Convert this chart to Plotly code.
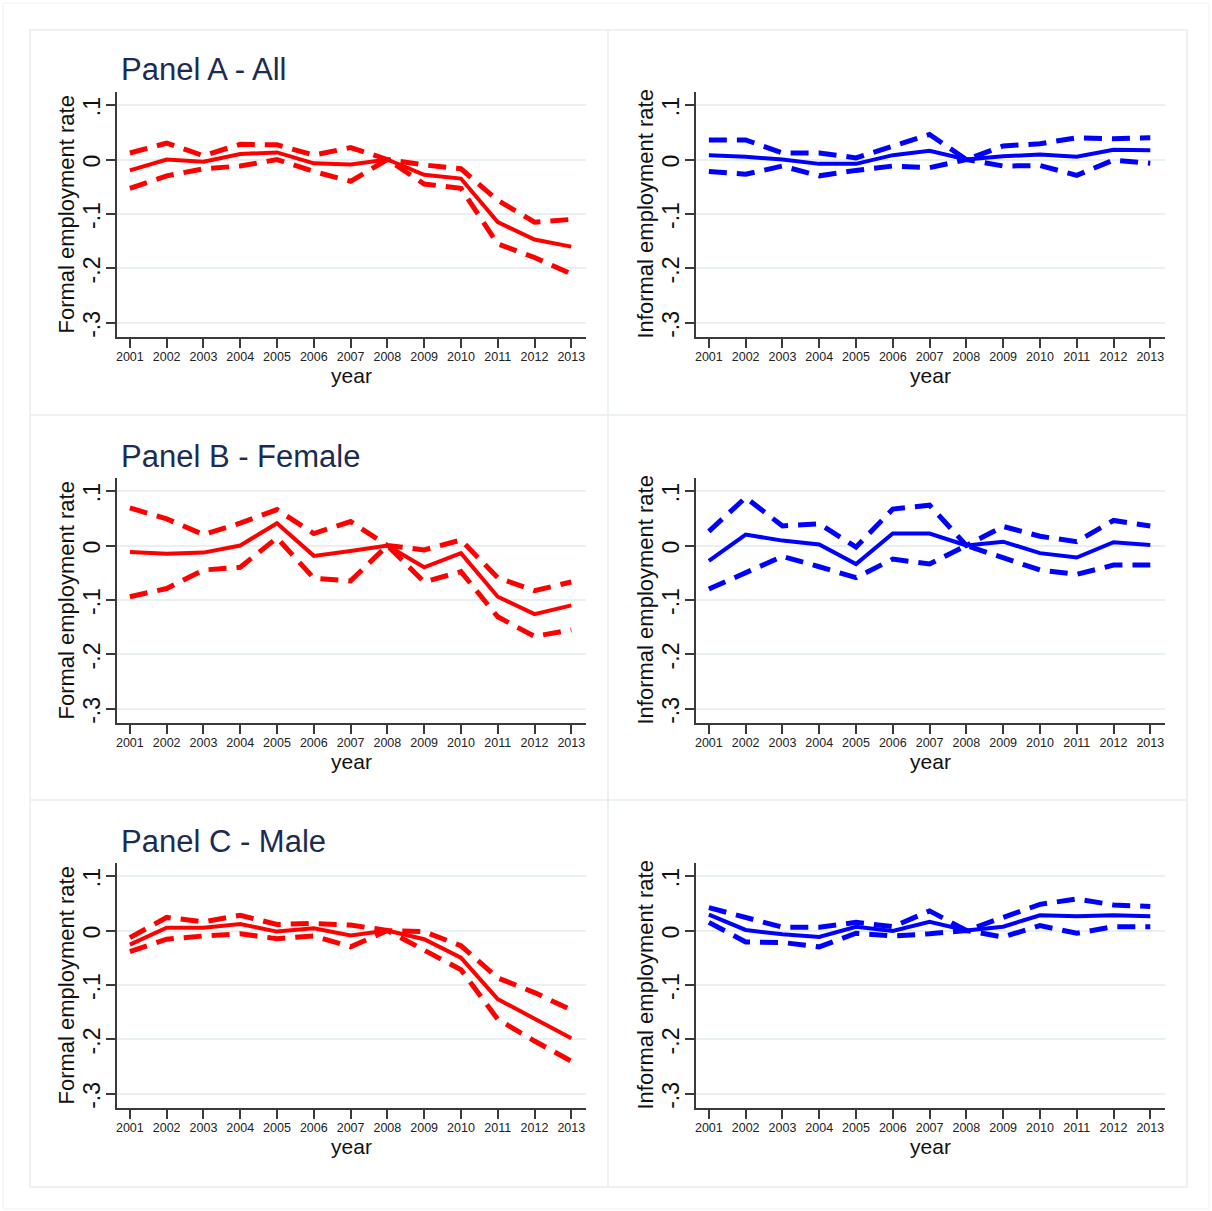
import plotly.graph_objects as go

years = list(range(2001, 2014))

# Panel A - All
a_formal = [-0.020, 0.000, -0.004, 0.010, 0.013, -0.007, -0.009, 0.000, -0.028, -0.035, -0.115, -0.147, -0.160]
a_formal_hi = [0.012, 0.030, 0.007, 0.028, 0.027, 0.008, 0.022, 0.000, -0.010, -0.017, -0.075, -0.115, -0.110]
a_formal_lo = [-0.053, -0.030, -0.017, -0.012, 0.000, -0.022, -0.040, 0.000, -0.045, -0.053, -0.155, -0.180, -0.210]
a_inf = [0.008, 0.005, 0.000, -0.008, -0.008, 0.008, 0.016, 0.000, 0.006, 0.009, 0.005, 0.018, 0.017]
a_inf_hi = [0.036, 0.036, 0.012, 0.012, 0.003, 0.025, 0.046, 0.000, 0.025, 0.029, 0.040, 0.038, 0.040]
a_inf_lo = [-0.022, -0.027, -0.012, -0.030, -0.020, -0.012, -0.015, 0.000, -0.012, -0.011, -0.029, -0.001, -0.007]

# Panel B - Female
b_formal = [-0.012, -0.015, -0.013, 0.000, 0.041, -0.019, -0.010, 0.000, -0.040, -0.014, -0.094, -0.126, -0.110]
b_formal_hi = [0.069, 0.049, 0.020, 0.041, 0.066, 0.022, 0.044, 0.000, -0.008, 0.010, -0.059, -0.083, -0.067]
b_formal_lo = [-0.094, -0.079, -0.045, -0.040, 0.014, -0.060, -0.065, 0.000, -0.067, -0.048, -0.131, -0.167, -0.155]
b_inf = [-0.028, 0.020, 0.009, 0.002, -0.034, 0.022, 0.022, 0.000, 0.007, -0.014, -0.022, 0.006, 0.001]
b_inf_hi = [0.026, 0.088, 0.036, 0.040, -0.003, 0.067, 0.074, 0.000, 0.035, 0.017, 0.007, 0.046, 0.036]
b_inf_lo = [-0.080, -0.050, -0.020, -0.039, -0.059, -0.025, -0.034, 0.000, -0.022, -0.045, -0.053, -0.036, -0.036]

# Panel C - Male
c_formal = [-0.026, 0.005, 0.005, 0.012, -0.002, 0.004, -0.009, 0.000, -0.016, -0.050, -0.126, -0.163, -0.198]
c_formal_hi = [-0.013, 0.024, 0.016, 0.028, 0.011, 0.013, 0.010, 0.000, -0.002, -0.028, -0.087, -0.114, -0.146]
c_formal_lo = [-0.039, -0.016, -0.010, -0.006, -0.015, -0.010, -0.030, 0.000, -0.036, -0.072, -0.163, -0.203, -0.240]
c_inf = [0.029, 0.001, -0.007, -0.012, 0.007, -0.001, 0.016, 0.000, 0.007, 0.028, 0.026, 0.028, 0.026]
c_inf_hi = [0.042, 0.023, 0.006, 0.006, 0.015, 0.007, 0.036, 0.000, 0.023, 0.048, 0.058, 0.047, 0.044]
c_inf_lo = [0.015, -0.021, -0.022, -0.030, -0.005, -0.010, -0.006, 0.000, -0.012, 0.009, -0.005, 0.007, 0.007]

panel_titles = ["Panel A - All", "Panel B - Female", "Panel C - Male"]
y_titles = ["Formal employment rate", "Informal employment rate"]
y_tickvals = [-0.3, -0.2, -0.1, 0, 0.1]
y_ticktext = ["-.3", "-.2", "-.1", "0", ".1"]

W, H = 1212, 1211
FONT = "Liberation Sans, Arial, Helvetica, sans-serif"
RED, BLUE = "#ff0000", "#0000ff"
GRID = "#e8f0f2"
BORDER = "#e6eef0"
AXIS = "#3a3a3a"
TITLE_COLOR = "#1c2b51"

panels = [
    [(a_formal, a_formal_hi, a_formal_lo, RED), (a_inf, a_inf_hi, a_inf_lo, BLUE)],
    [(b_formal, b_formal_hi, b_formal_lo, RED), (b_inf, b_inf_hi, b_inf_lo, BLUE)],
    [(c_formal, c_formal_hi, c_formal_lo, RED), (c_inf, c_inf_hi, c_inf_lo, BLUE)],
]

# plot-area pixel geometry
col_x = [(117, 586), (696, 1165)]
row_y = [(92, 337), (478, 723), (863, 1108)]

fig = go.Figure()
layout = dict(
    width=W, height=H, autosize=False,
    margin=dict(l=0, r=0, t=0, b=0),
    paper_bgcolor="white", plot_bgcolor="white",
    showlegend=False,
    font=dict(family=FONT, color="#000000"),
)
annotations = []
shapes = []

k = 0
for r in range(3):
    for c in range(2):
        k += 1
        xname = "x" if k == 1 else f"x{k}"
        yname = "y" if k == 1 else f"y{k}"
        mid, hi, lo, color = panels[r][c]
        for vals, dash, w in [(hi, "18px,10px", 5), (lo, "18px,10px", 5), (mid, "solid", 4)]:
            fig.add_trace(go.Scatter(
                x=years, y=vals, mode="lines", xaxis=xname, yaxis=yname,
                line=dict(color=color, width=w, dash=dash),
                hoverinfo="skip"))
        x0, x1 = col_x[c]
        y0, y1 = row_y[r]
        xd = [x0 / W, x1 / W]
        yd = [1 - y1 / H, 1 - y0 / H]
        xkey = "xaxis" if k == 1 else f"xaxis{k}"
        ykey = "yaxis" if k == 1 else f"yaxis{k}"
        layout[xkey] = dict(
            domain=xd, anchor=yname, range=[2000.65, 2013.4],
            tickvals=years, ticktext=[str(y) for y in years],
            ticks="outside", ticklen=9, tickwidth=1.5, tickcolor=AXIS,
            showline=True, linecolor=AXIS, linewidth=2,
            showgrid=False, zeroline=False,
            tickfont=dict(size=12.5, color="#222", family=FONT),
            ticklabelstandoff=-2,
            title=dict(text="year", font=dict(size=21, color="#111", family=FONT), standoff=4),
            fixedrange=True,
        )
        layout[ykey] = dict(
            domain=yd, anchor=xname, range=[-0.326, 0.124],
            tickvals=y_tickvals, ticktext=y_ticktext, tickangle=-90,
            ticks="outside", ticklen=9, tickwidth=1.5, tickcolor=AXIS,
            showline=True, linecolor=AXIS, linewidth=2,
            showgrid=True, gridcolor=GRID, gridwidth=2, zeroline=False,
            tickfont=dict(size=23, color="#111", family=FONT),
            ticklabelstandoff=-3, ticklabelshift=5,
            fixedrange=True,
        )
        # y-axis title
        annotations.append(dict(
            text=y_titles[c], xref="paper", yref="paper",
            x=(x0 - 51) / W, y=1 - ((y0 + y1) / 2) / H, xanchor="center", yanchor="middle",
            textangle=-90, showarrow=False,
            font=dict(size=22, color="#111", family=FONT)))
    annotations.append(dict(
        text=panel_titles[r], xref="paper", yref="paper",
        x=119 / W, y=1 - (row_y[r][0] - 22) / H, xanchor="left", yanchor="middle",
        showarrow=False, font=dict(size=31, color=TITLE_COLOR, family=FONT)))

# cell borders (graph combine look)
line = dict(color=BORDER, width=1.5)
shapes.append(dict(type="rect", xref="paper", yref="paper",
                   x0=30 / W, x1=1187 / W, y0=1 - 1187 / H, y1=1 - 30 / H, line=line, layer="below"))
shapes.append(dict(type="rect", xref="paper", yref="paper",
                   x0=3 / W, x1=1209 / W, y0=1 - 1209 / H, y1=1 - 3 / H,
                   line=dict(color="#eef3f5", width=1), layer="below"))
shapes.append(dict(type="line", xref="paper", yref="paper",
                   x0=608 / W, x1=608 / W, y0=1 - 1187 / H, y1=1 - 30 / H, line=line, layer="below"))
for yy in (415, 800):
    shapes.append(dict(type="line", xref="paper", yref="paper",
                       x0=30 / W, x1=1187 / W, y0=1 - yy / H, y1=1 - yy / H, line=line, layer="below"))

layout["annotations"] = annotations
layout["shapes"] = shapes
fig.update_layout(**layout)
fig.write_html("out.html", config={"displayModeBar": False},
               post_script="document.body.style.margin='0';document.body.style.overflow='hidden';")
